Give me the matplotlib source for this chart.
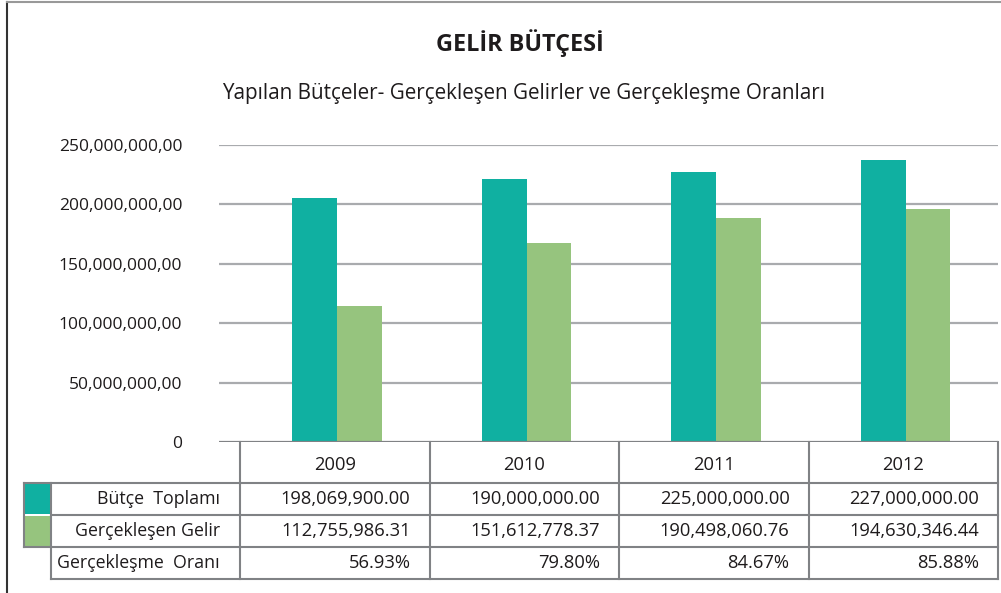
import matplotlib
matplotlib.use("Agg")
import matplotlib.pyplot as plt
from matplotlib.patches import Rectangle
from matplotlib.lines import Line2D

plt.rcParams['font.family'] = ['Open Sans', 'DejaVu Sans']

# ---------------- data ----------------
years = ["2009", "2010", "2011", "2012"]
butce_bars = [205.3e6, 221.3e6, 227.1e6, 237.2e6]      # bar heights
gelir_bars = [114.5e6, 167.5e6, 188.5e6, 196.1e6]
row_labels = ["Bütçe  Toplamı", "Gerçekleşen Gelir", "Gerçekleşme  Oranı"]
butce_text = ["198,069,900.00", "190,000,000.00", "225,000,000.00", "227,000,000.00"]
gelir_text = ["112,755,986.31", "151,612,778.37", "190,498,060.76", "194,630,346.44"]
oran_text = ["56.93%", "79.80%", "84.67%", "85.88%"]
yticks = [0, 50e6, 100e6, 150e6, 200e6, 250e6]
ytick_labels = ["0", "50,000,000,00", "100,000,000,00", "150,000,000,00",
                "200,000,000,00", "250,000,000,00"]
title = "GELİR BÜTÇESİ"
subtitle = "Yapılan Bütçeler- Gerçekleşen Gelirler ve Gerçekleşme Oranları"

TEAL = "#10B0A1"
GREEN = "#96C47E"
GRID = "#a9abae"
LINE = "#808285"
TXT = "#1e1b1c"

W, H = 1001, 593
fig = plt.figure(figsize=(W / 100, H / 100), dpi=100)

def fx(px):
    return px / W

def fy(py):
    return 1 - py / H

# axes: left 219, right 998, top 145, bottom 442 (pixels)
ax_l, ax_r, ax_t, ax_b = 219, 998, 145, 442
ax = fig.add_axes([fx(ax_l), fy(ax_b), fx(ax_r - ax_l), (ax_b - ax_t) / H])
cat_w_px = (ax_r - 240) / 4.0
left_ext = (240 - ax_l) / cat_w_px
ax.set_xlim(-0.5 - left_ext, 3.5)
ax.set_ylim(0, 250e6)

bw = 0.237
xs = range(len(years))
ax.bar([x - bw / 2 + 0.012 for x in xs], butce_bars, width=bw, color=TEAL, zorder=3)
ax.bar([x + bw / 2 + 0.012 for x in xs], gelir_bars, width=bw, color=GREEN, zorder=3)

for v in yticks[1:]:
    ax.axhline(v, color=GRID, lw=1.6, zorder=1)
ax.axhline(0, color=LINE, lw=1.6, zorder=4)

for s in ax.spines.values():
    s.set_visible(False)
ax.set_xticks([])
ax.set_yticks(yticks)
ax.set_yticklabels(ytick_labels, fontsize=12.5, color=TXT)
ax.tick_params(axis='y', length=0, pad=26.5)

# ---------------- table ----------------
def hline(x0, x1, y, color=LINE, lw=1.5):
    fig.add_artist(Line2D([fx(x0), fx(x1)], [fy(y), fy(y)], transform=fig.transFigure,
                          color=color, lw=lw))

def vline(x, y0, y1, color=LINE, lw=1.5):
    fig.add_artist(Line2D([fx(x), fx(x)], [fy(y0), fy(y1)], transform=fig.transFigure,
                          color=color, lw=lw))

def data_x_to_px(xd):
    xmin, xmax = ax.get_xlim()
    return ax_l + (xd - xmin) / (xmax - xmin) * (ax_r - ax_l)

col_edges = [data_x_to_px(i - 0.5) for i in range(len(years) + 1)]
row_y = [442, 483, 515, 547, 579]
key_l, lab_l = 24, 51

hline(col_edges[0], col_edges[-1], row_y[1])
for xe in col_edges:
    vline(xe, row_y[0], row_y[4])
for yv in row_y[2:]:
    hline(lab_l, col_edges[-1], yv)
hline(key_l, col_edges[0], row_y[1])
hline(key_l, lab_l, row_y[3])
vline(key_l, row_y[1], row_y[3])
vline(lab_l, row_y[1], row_y[4])

# legend keys
for color, (y0, y1) in zip([TEAL, GREEN], [(row_y[1], row_y[2]), (row_y[2], row_y[3])]):
    fig.add_artist(Rectangle((fx(key_l + 1), fy(y1 - 1)), fx(lab_l - key_l - 2), (y1 - y0 - 2) / H,
                             transform=fig.transFigure, facecolor=color, edgecolor='none'))

fs_tab = 13.2
for i, yr in enumerate(years):
    cx = (col_edges[i] + col_edges[i + 1]) / 2
    fig.text(fx(cx), fy((row_y[0] + row_y[1]) / 2 + 3), yr, ha='center', va='center',
             fontsize=fs_tab, color=TXT)
rows = [butce_text, gelir_text, oran_text]
for r, vals in enumerate(rows):
    yc = (row_y[r + 1] + row_y[r + 2]) / 2
    fig.text(fx(col_edges[0] - 20), fy(yc), row_labels[r], ha='right', va='center',
             fontsize=12.8, color=TXT)
    for i, v in enumerate(vals):
        fig.text(fx(col_edges[i + 1] - 19), fy(yc), v, ha='right', va='center',
                 fontsize=fs_tab, color=TXT)

# titles
fig.text(fx(520), fy(43), title, ha='center', va='center', fontsize=16.8,
         fontweight='bold', color=TXT)
fig.text(fx(524), fy(93), subtitle, ha='center', va='center', fontsize=14.9, color=TXT)

# outer frame lines
fig.add_artist(Line2D([fx(7), fx(7)], [0, fy(1.5)], transform=fig.transFigure, color="#333333", lw=1.5))
fig.add_artist(Line2D([fx(7), fx(1001)], [fy(1.5), fy(1.5)], transform=fig.transFigure, color="#999999", lw=1.5))

fig.savefig("out.png", dpi=100)
